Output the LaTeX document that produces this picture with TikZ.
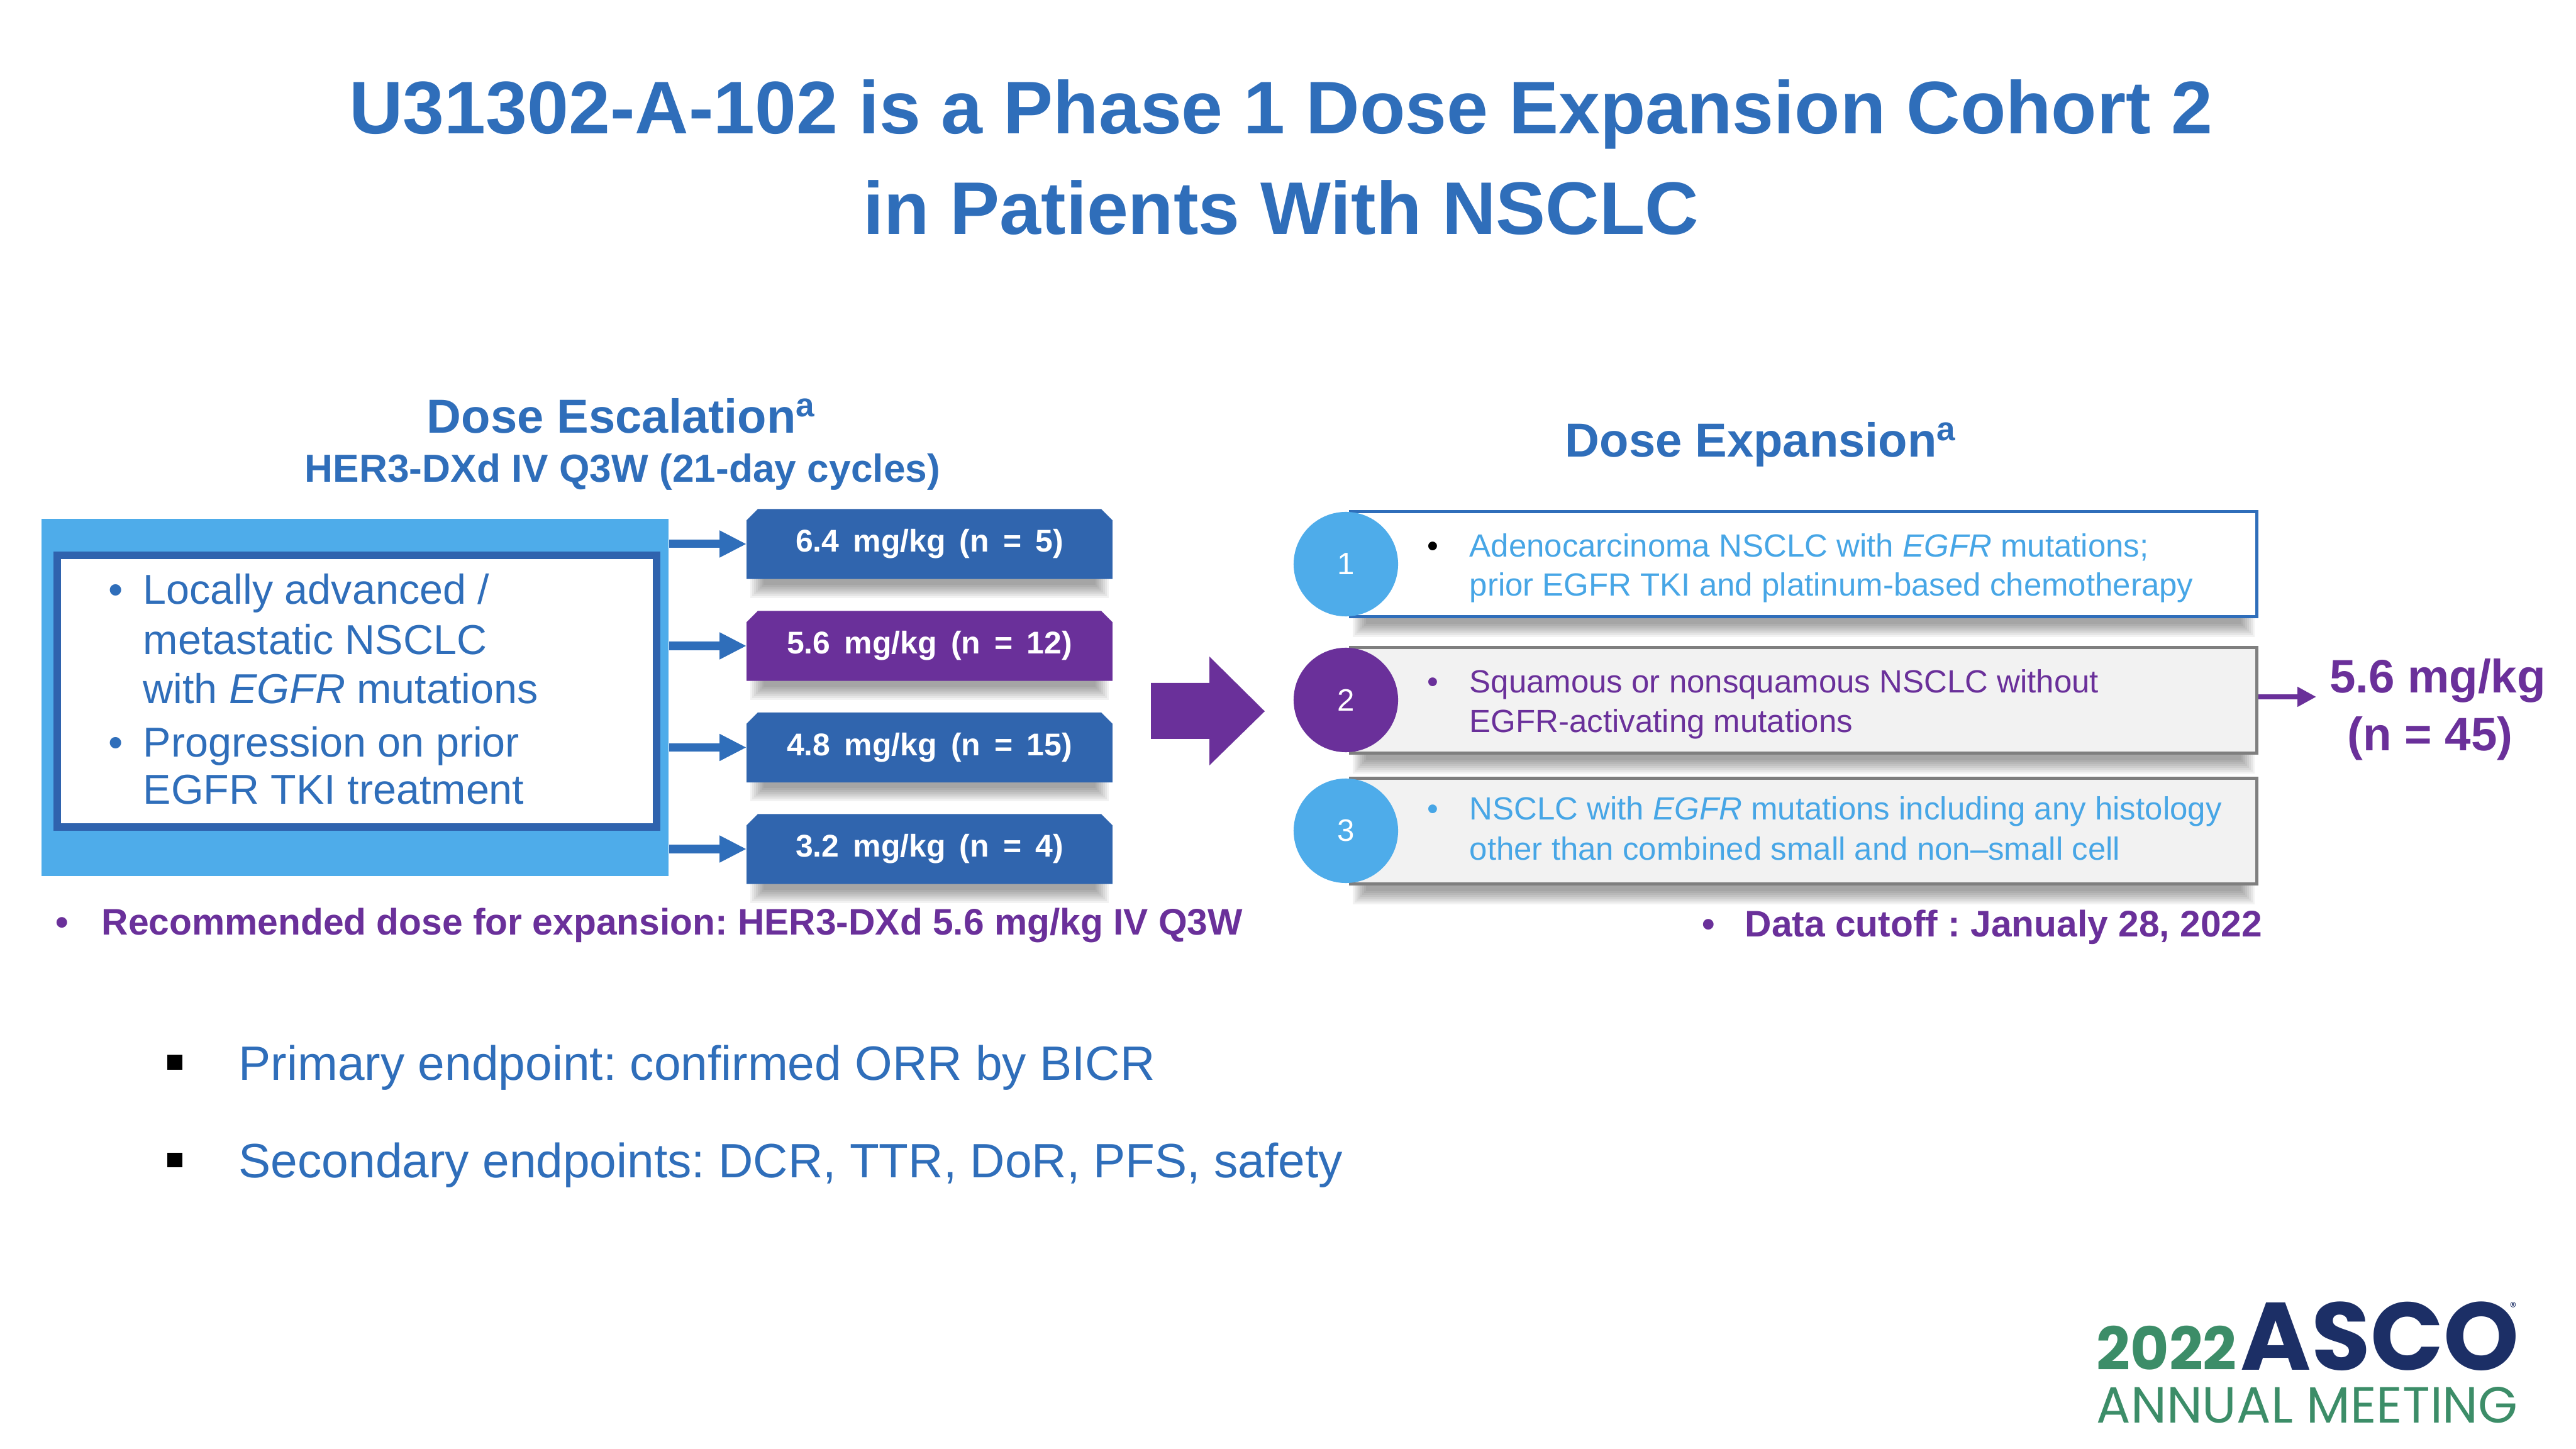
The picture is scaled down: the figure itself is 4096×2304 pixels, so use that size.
\documentclass[tikz,border=0pt]{standalone}
\usepackage{fontspec}
\setmainfont{Liberation Sans}
\newfontfamily\logofont{Poppins}
\newfontfamily\dosefont[WordSpace=1.6]{Liberation Sans}
\usetikzlibrary{arrows.meta,backgrounds,calc}

\definecolor{titleblue}{HTML}{2F6EBA}
\definecolor{lightblue}{HTML}{4EACEA}
\definecolor{doseblue}{HTML}{3065AE}
\definecolor{borderblue}{HTML}{2F63AE}
\definecolor{mypurple}{HTML}{6A309A}
\definecolor{txtlightblue}{HTML}{47A6E6}
\definecolor{boxgrey}{HTML}{F2F2F2}
\definecolor{greyline}{HTML}{7F7F7F}
\definecolor{logogreen}{HTML}{3C8D68}
\definecolor{logonavy}{HTML}{1C2F66}

\newcommand\fs[1]{\fontsize{#1}{1.2\dimexpr#1pt\relax}\selectfont\frenchspacing}

\newcommand\softshadow[1]{%
  \foreach \k in {0,...,7}{%
    \fill[black,opacity=0.05] ($(#1.south west)+(6+3*\k,-14)$) rectangle ($(#1.south east)+(-6-3*\k,30-3*\k)$);
  }}
\newcommand\chamfill[2]{%
  \fill[#2] ($(#1.north west)+(0,18)$) -- ($(#1.north west)+(18,0)$) -- ($(#1.north east)+(-18,0)$) -- ($(#1.north east)+(0,18)$) -- (#1.south east) -- (#1.south west) -- cycle;}

\tikzset{
  titletxt/.style={anchor=base,inner sep=0,font=\fs{33.7}\bfseries,text=titleblue},
  headtxt/.style={anchor=base,inner sep=0,font=\fs{21.6}\bfseries,text=titleblue},
  subtxt/.style={anchor=base,inner sep=0,font=\fs{17.7}\bfseries,text=titleblue},
  lefttxt/.style={anchor=base west,inner sep=0,font=\fs{18.9},text=titleblue},
  dosebox/.style={minimum width=5.8cm,minimum height=1.1cm,inner sep=0,font=\dosefont\fs{14.2}\bfseries,text=white},
  dosearrow/.style={draw=titleblue,line width=0.13cm,-{Triangle[length=0.43cm,width=0.40cm]}},
  expbox/.style={minimum width=14.40cm,minimum height=1.67cm,inner sep=0,line width=0.05cm},
  numcirc/.style={circle,minimum size=1.66cm,inner sep=0,font=\fs{14},text=white},
  exptxt/.style={anchor=base west,inner sep=0,font=\fs{14.5}},
  purplebold/.style={anchor=base west,inner sep=0,font=\fs{16.7}\bfseries,text=mypurple},
  restxt/.style={anchor=base,inner sep=0,font=\fs{21.2}\bfseries,text=mypurple},
  endtxt/.style={anchor=base west,inner sep=0,font=\fs{21.8},text=titleblue},
  sqbullet/.style={fill=black,minimum size=0.23cm,inner sep=0},
}

\begin{document}
\begin{tikzpicture}[x=0.01cm,y=-0.01cm]
\useasboundingbox (0,0) rectangle (4096,2304);
\begin{scope}[on background layer]
  \fill[white] (0,0) rectangle (4096,2304);
\end{scope}

% Title
\node[titletxt] (title1) at (2037,213) {U31302-A-102 is a Phase 1 Dose Expansion Cohort 2};
\node[titletxt] (title2) at (2037,373) {in Patients With NSCLC};

% Headings
\node[headtxt] (eschead) at (988,689) {Dose Escalation\textsuperscript{a}};
\node[subtxt] (escsub) at (990,767) {HER3-DXd IV Q3W (21-day cycles)};
\node[headtxt] (exphead) at (2800,727) {Dose Expansion\textsuperscript{a}};

% Left eligibility box
\node[fill=lightblue,minimum width=9.97cm,minimum height=5.68cm,inner sep=0] (leftbox) at (564.5,1109) {};
\node[fill=white,draw=borderblue,line width=0.12cm,minimum width=9.53cm,minimum height=4.32cm,inner sep=0] (inbox) at (567.5,1099) {};
\node[lefttxt] (lb1) at (172,961) {•};
\node[lefttxt] (l1) at (227,961) {Locally advanced /};
\node[lefttxt] (l2) at (227,1041) {metastatic NSCLC};
\node[lefttxt] (l3) at (227,1119) {with \textit{EGFR} mutations};
\node[lefttxt] (lb2) at (172,1203) {•};
\node[lefttxt] (l4) at (227,1203) {Progression on prior};
\node[lefttxt] (l5) at (227,1278) {EGFR TKI treatment};

% Dose boxes
\node[dosebox] (d1) at (1478,865) {6.4 mg/kg (n = 5)};
\node[dosebox] (d2) at (1478,1027) {5.6 mg/kg (n = 12)};
\node[dosebox] (d3) at (1478,1188.5) {4.8 mg/kg (n = 15)};
\node[dosebox] (d4) at (1478,1350) {3.2 mg/kg (n = 4)};

\begin{scope}[on background layer]
  \softshadow{d1}\softshadow{d2}\softshadow{d3}\softshadow{d4}
  \chamfill{d1}{doseblue}
  \chamfill{d2}{mypurple}
  \chamfill{d3}{doseblue}
  \chamfill{d4}{doseblue}
\end{scope}

\foreach \d in {d1,d2,d3,d4}{
  \draw[dosearrow] (leftbox.east |- \d.west) -- (\d.west);
}

% Big purple arrow
\fill[mypurple] (1830,1086) -- (1923,1086) -- (1923,1044) -- (2011,1131) -- (1923,1217) -- (1923,1175) -- (1830,1175) -- cycle;

\node[purplebold] (recb) at (88,1486) {•};
\node[purplebold] (rec) at (161,1486) {Recommended dose for expansion: HER3-DXd 5.6 mg/kg IV Q3W};

% Expansion boxes
\node[expbox,draw=titleblue,fill=white] (e1) at (2868,897) {};
\node[expbox,draw=greyline,fill=boxgrey] (e2) at (2868,1113.5) {};
\node[expbox,draw=greyline,fill=boxgrey] (e3) at (2868,1321.5) {};
\begin{scope}[on background layer]
  \softshadow{e1}\softshadow{e2}\softshadow{e3}
\end{scope}

\node[numcirc,fill=lightblue] (c1) at (2140,897) {1};
\node[numcirc,fill=mypurple] (c2) at (2140,1113) {2};
\node[numcirc,fill=lightblue] (c3) at (2140,1321) {3};

\node[exptxt,text=black] (b1) at (2269,886) {•};
\node[exptxt,text=txtlightblue] (t1a) at (2336,886) {Adenocarcinoma NSCLC with \textit{EGFR} mutations;};
\node[exptxt,text=txtlightblue] (t1b) at (2336,948) {prior EGFR TKI and platinum-based chemotherapy};
\node[exptxt,text=mypurple] (b2) at (2269,1102) {•};
\node[exptxt,text=mypurple] (t2a) at (2336,1102) {Squamous or nonsquamous NSCLC without};
\node[exptxt,text=mypurple] (t2b) at (2336,1165) {EGFR-activating mutations};
\node[exptxt,text=txtlightblue] (b3) at (2269,1303) {•};
\node[exptxt,text=txtlightblue] (t3a) at (2336,1303) {NSCLC with \textit{EGFR} mutations including any histology};
\node[exptxt,text=txtlightblue] (t3b) at (2336,1367) {other than combined small and non–small cell};

% Result
\coordinate (restip) at (3683,1108);
\draw[draw=mypurple,line width=0.08cm,-{Triangle[length=0.30cm,width=0.30cm]}] (e2.east |- restip) -- (restip);
\node[restxt] (res1) at (3876,1102) {5.6 mg/kg};
\node[restxt] (res2) at (3864,1194) {(n = 45)};

\node[purplebold] (cutb) at (2706,1489) {•};
\node[purplebold] (cut) at (2774,1489) {Data cutoff : Janualy 28, 2022};

% Endpoints
\node[sqbullet] (sq1) at (278,1689) {};
\node[endtxt] (ep1) at (379,1717) {Primary endpoint: confirmed ORR by BICR};
\node[sqbullet] (sq2) at (278,1844) {};
\node[endtxt] (ep2) at (379,1872) {Secondary endpoints: DCR, TTR, DoR, PFS, safety};

% Logo
\node[anchor=base west,inner sep=0,font=\logofont\fs{26.8}\bfseries,text=logogreen] (lg1) at (3333,2178) {2022};
\node[anchor=base west,inner sep=0,font=\logofont\fs{43.4}\bfseries,text=logonavy] (lg2) at (3562,2178) {ASCO};
\node[anchor=base west,inner sep=0,font=\logofont\fs{6},text=logonavy] (lg3) at (3990,2085) {®};
\node[anchor=base west,inner sep=0,font=\logofont\fs{23},text=logogreen] (lg4) at (3333,2262) {ANNUAL MEETING};
\end{tikzpicture}
\end{document}
